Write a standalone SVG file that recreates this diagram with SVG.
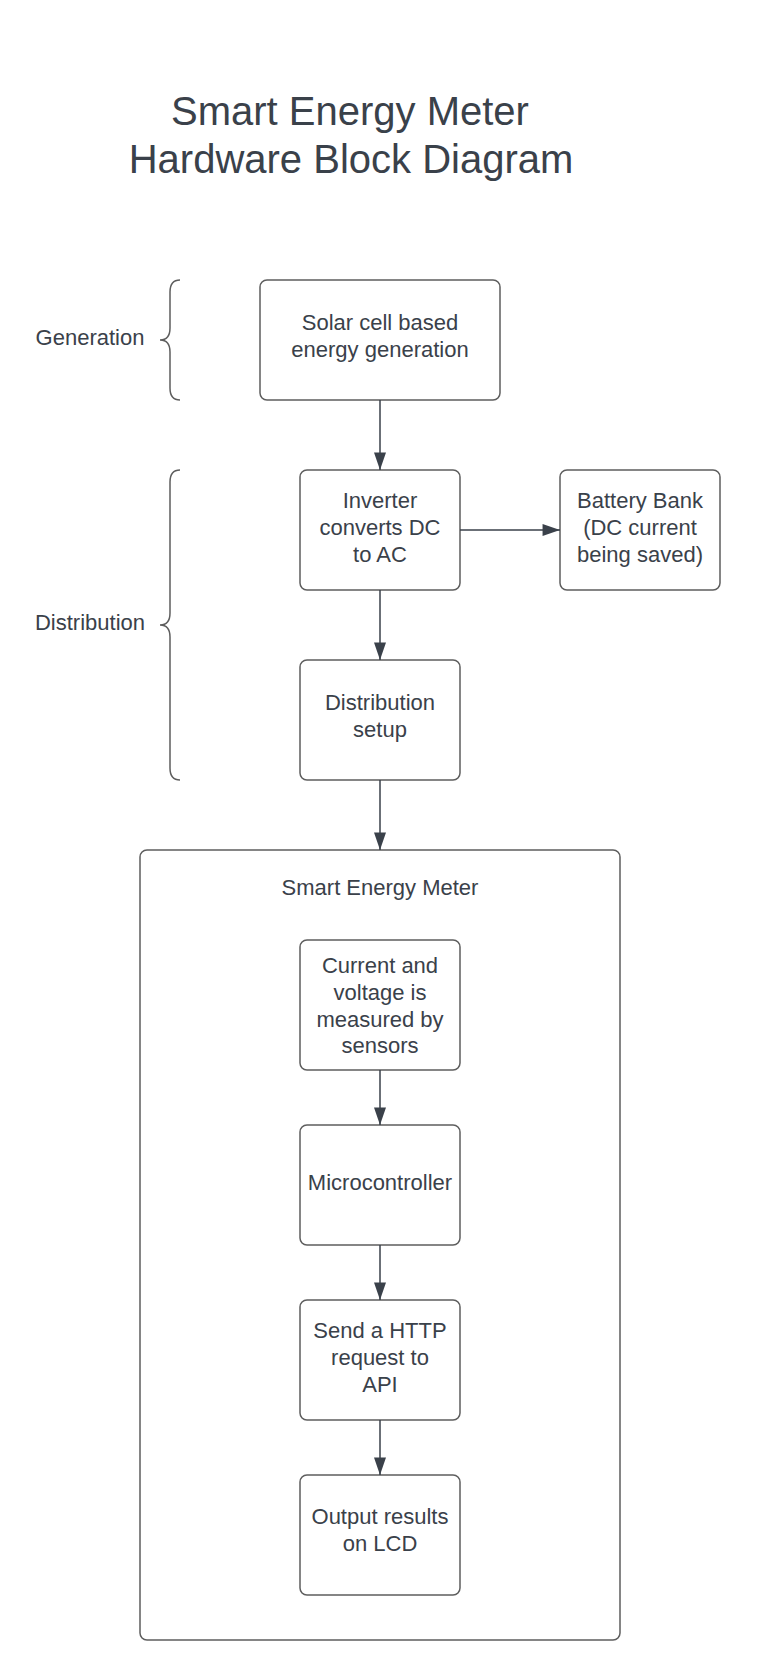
<svg xmlns="http://www.w3.org/2000/svg" width="760" height="1680" viewBox="0 0 760 1680">
<defs>
<style>
text{font-family:"Liberation Sans",Arial,sans-serif;fill:#3a414a;text-anchor:middle}
.t{font-size:22px}
.title{font-size:40px}
.box{fill:#ffffff;stroke:#5e5e5e;stroke-width:1.5}
.brace{fill:none;stroke:#5e5e5e;stroke-width:1.5}
.conn{fill:none;stroke:#3a414a;stroke-width:1.5}
</style>
<marker id="ah" markerUnits="userSpaceOnUse" markerWidth="18" markerHeight="12" viewBox="0 0 16 11" refX="16" refY="5.5" orient="auto">
<path d="M0,0 L16,5.5 L0,11 Z" fill="#3a414a"/>
</marker>
</defs>
<rect width="760" height="1680" fill="#ffffff"/>
<g id="title">
<text class="title" x="350" y="125">Smart Energy Meter</text>
<text class="title" x="351" y="173">Hardware Block Diagram</text>
</g>
<g id="generation-label">
<path class="brace" d="M180,280 Q170,280 170,292 L170,328 Q170,340 160,340 Q170,340 170,352 L170,388 Q170,400 180,400"/>
<text class="t" x="90" y="345">Generation</text>
</g>
<g id="distribution-label">
<path class="brace" d="M180,470 Q170,470 170,482 L170,613 Q170,625 160,625 Q170,625 170,637 L170,768 Q170,780 180,780"/>
<text class="t" x="90" y="630">Distribution</text>
</g>
<g id="smart-energy-meter">
<rect class="box" x="140" y="850" width="480" height="790" rx="7"/>
<text class="t" x="380" y="895">Smart Energy Meter</text>
</g>
<g id="solar">
<rect class="box" x="260" y="280" width="240" height="120" rx="7"/>
<text class="t" x="380" y="330">Solar cell based</text>
<text class="t" x="380" y="357">energy generation</text>
</g>
<g id="inverter">
<rect class="box" x="300" y="470" width="160" height="120" rx="7"/>
<text class="t" x="380" y="508">Inverter</text>
<text class="t" x="380" y="535">converts DC</text>
<text class="t" x="380" y="562">to AC</text>
</g>
<g id="battery">
<rect class="box" x="560" y="470" width="160" height="120" rx="7"/>
<text class="t" x="640" y="508">Battery Bank</text>
<text class="t" x="640" y="535">(DC current</text>
<text class="t" x="640" y="562">being saved)</text>
</g>
<g id="distribution">
<rect class="box" x="300" y="660" width="160" height="120" rx="7"/>
<text class="t" x="380" y="710">Distribution</text>
<text class="t" x="380" y="737">setup</text>
</g>
<g id="sensors">
<rect class="box" x="300" y="940" width="160" height="130" rx="7"/>
<text class="t" x="380" y="973">Current and</text>
<text class="t" x="380" y="1000">voltage is</text>
<text class="t" x="380" y="1027">measured by</text>
<text class="t" x="380" y="1053">sensors</text>
</g>
<g id="microcontroller">
<rect class="box" x="300" y="1125" width="160" height="120" rx="7"/>
<text class="t" x="380" y="1190">Microcontroller</text>
</g>
<g id="http">
<rect class="box" x="300" y="1300" width="160" height="120" rx="7"/>
<text class="t" x="380" y="1338">Send a HTTP</text>
<text class="t" x="380" y="1365">request to</text>
<text class="t" x="380" y="1392">API</text>
</g>
<g id="lcd">
<rect class="box" x="300" y="1475" width="160" height="120" rx="7"/>
<text class="t" x="380" y="1524">Output results</text>
<text class="t" x="380" y="1551">on LCD</text>
</g>
<g id="connectors">
<line class="conn" x1="380" y1="400" x2="380" y2="470" marker-end="url(#ah)"/>
<line class="conn" x1="460" y1="530" x2="560" y2="530" marker-end="url(#ah)"/>
<line class="conn" x1="380" y1="590" x2="380" y2="660" marker-end="url(#ah)"/>
<line class="conn" x1="380" y1="780" x2="380" y2="850" marker-end="url(#ah)"/>
<line class="conn" x1="380" y1="1070" x2="380" y2="1125" marker-end="url(#ah)"/>
<line class="conn" x1="380" y1="1245" x2="380" y2="1300" marker-end="url(#ah)"/>
<line class="conn" x1="380" y1="1420" x2="380" y2="1475" marker-end="url(#ah)"/>
</g>
</svg>
